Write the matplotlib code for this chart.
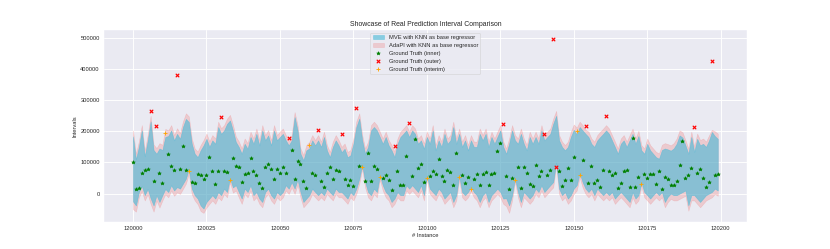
import numpy as np
import matplotlib
matplotlib.use("Agg")
import matplotlib.pyplot as plt
import seaborn as sns

# instance ids 120000 .. 120199
instances = np.arange(120000, 120200)

# ground truth (in thousands)
y_true = [103, 16, 19, 65, 77, 78, 266, 42, 217, 67,
          34, 195, 126, 89, 77, 380, 78, 154, 77, 73,
          36, 35, 63, 60, 48, 60, 117, 72, 32, 74,
          245, 74, 70, 45, 115, 89, 85, 36, 64, 67,
          113, 73, 59, 34, 18, 86, 94, 78, 46, 80,
          67, 87, 65, 180, 139, 46, 106, 94, 42, 19,
          157, 66, 59, 203, 40, 21, 65, 87, 47, 76,
          73, 192, 47, 27, 44, 24, 274, 89, 87, 42,
          130, 42, 89, 78, 52, 51, 59, 43, 10, 153,
          73, 28, 28, 120, 227, 57, 175, 82, 94, 37,
          50, 57, 74, 62, 112, 57, 40, 75, 70, 27,
          130, 52, 60, 34, 54, 16, 47, 62, 27, 62,
          70, 29, 63, 65, 137, 161, 224, 56, 15, 49,
          45, 84, 19, 84, 65, 30, 26, 93, 58, 72,
          191, 61, 77, 498, 84, 72, 26, 45, 82, 43,
          117, 200, 60, 107, 216, 33, 89, 34, 43, 21,
          75, 248, 74, 59, 66, 18, 33, 74, 76, 21,
          178, 21, 52, 31, 62, 51, 64, 64, 31, 72,
          14, 54, 48, 28, 27, 41, 92, 169, 51, 60,
          82, 213, 65, 80, 51, 20, 37, 426, 61, 63]

# MVE interval (thousands)
mve_upper = [184, 110, 150, 203, 120, 170, 232, 140, 128, 145,
             140, 182, 185, 203, 171, 192, 176, 214, 240, 230,
             160, 128, 117, 139, 155, 176, 150, 171, 160, 214,
             192, 203, 224, 235, 203, 166, 150, 128, 160, 144,
             182, 160, 192, 155, 203, 171, 187, 155, 203, 171,
             182, 192, 171, 155, 171, 246, 203, 128, 107, 139,
             145, 171, 155, 171, 150, 182, 139, 117, 150, 171,
             155, 133, 144, 117, 123, 160, 214, 241, 171, 128,
             150, 203, 214, 203, 182, 160, 182, 155, 139, 117,
             160, 182, 192, 203, 182, 203, 192, 160, 171, 144,
             182, 160, 203, 139, 171, 150, 192, 160, 171, 214,
             160, 192, 150, 171, 139, 171, 150, 150, 192, 171,
             192, 150, 182, 160, 182, 203, 150, 128, 160, 203,
             171, 160, 192, 160, 139, 182, 160, 182, 160, 203,
             171, 182, 192, 224, 250, 171, 150, 139, 150, 182,
             205, 190, 214, 203, 192, 182, 160, 150, 171, 182,
             192, 203, 192, 171, 150, 128, 160, 171, 150, 171,
             192, 160, 185, 139, 128, 160, 139, 128, 117, 112,
             140, 145, 142, 138, 145, 160, 187, 180, 155, 128,
             182, 134, 176, 155, 160, 150, 170, 198, 185, 176]
mve_lower = [-25, -38, 5, 25, -5, 15, -15, -38, -5, -27,
             -5, 15, 5, 27, 10, 21, 16, 32, 48, 80,
             16, -5, -16, -38, -48, -27, -16, -5, -16, 5,
             -5, 16, 5, 50, 20, 27, 5, -16, 16, 5,
             27, -5, 5, -16, -27, 5, 16, -5, -16, 5,
             -5, 5, 27, 16, 37, 16, 45, 5, -27, -16,
             -5, 16, 5, -5, 5, -5, 16, 5, -5, 16,
             5, 5, -5, -16, 5, -5, 16, 48, 93, 37,
             5, -5, 16, 5, 58, 27, 5, -5, -27, -16,
             5, -5, -5, 27, 16, 27, 16, 5, 27, -5,
             58, 16, 5, -5, 16, 5, -16, -5, 5, -27,
             -5, 58, 5, -5, 5, 22, 5, -5, -27, -5,
             5, -27, -5, 5, 16, 5, -16, -15, -38, -5,
             50, 5, -27, 5, -5, -16, -5, 16, 5, 27,
             5, 16, 27, 37, 100, 16, -5, 5, -16, -5,
             16, 27, 66, 37, 16, 5, 16, -5, 16, 5,
             -5, 5, -5, 5, -16, -5, 5, -5, -16, -27,
             5, -16, -5, 36, 5, -5, -16, -5, 5, -5,
             5, -27, -10, 0, -5, -5, 0, 5, 10, -38,
             -5, -5, -16, -27, -16, -5, 0, 5, 16, 10]

# AdaPI interval (thousands)
adapi_upper = [203, 128, 168, 220, 138, 188, 250, 158, 146, 162,
               157, 208, 203, 220, 188, 210, 194, 232, 258, 248,
               177, 145, 135, 156, 172, 193, 168, 188, 177, 231,
               210, 220, 241, 253, 221, 183, 168, 145, 177, 162,
               199, 177, 209, 172, 220, 188, 204, 172, 220, 188,
               199, 209, 188, 170, 188, 262, 220, 145, 124, 156,
               166, 188, 172, 188, 167, 199, 156, 134, 167, 188,
               172, 150, 161, 134, 140, 177, 232, 258, 188, 145,
               167, 220, 231, 220, 199, 177, 199, 172, 156, 135,
               177, 199, 209, 220, 199, 220, 209, 177, 188, 161,
               199, 177, 220, 156, 188, 167, 209, 177, 188, 231,
               177, 209, 167, 188, 156, 188, 167, 167, 209, 188,
               209, 167, 199, 177, 199, 220, 167, 145, 177, 220,
               188, 177, 209, 177, 156, 199, 177, 199, 177, 220,
               185, 199, 209, 241, 266, 188, 167, 156, 167, 199,
               222, 212, 231, 220, 205, 199, 177, 167, 188, 199,
               209, 220, 209, 188, 167, 145, 177, 188, 167, 188,
               209, 177, 202, 156, 145, 177, 156, 145, 134, 129,
               157, 162, 159, 155, 162, 177, 203, 197, 172, 145,
               199, 151, 193, 172, 177, 167, 187, 205, 200, 193]
adapi_lower = [-50, -58, -12, 8, -22, -2, -33, -58, -22, -45,
               -22, -2, -12, 10, -7, 4, -1, 15, 32, 64,
               -2, -22, -34, -56, -62, -45, -33, -22, -33, -12,
               -22, -1, -12, 36, 3, 10, -12, -33, -1, -12,
               10, -22, -12, -33, -44, -12, -1, -22, -33, -12,
               -22, -12, 10, -1, 20, -1, 28, -12, -44, -33,
               -22, -1, -12, -22, -12, -22, -1, -12, -22, -1,
               -12, -12, -22, -33, -12, -22, -1, 32, 80, 20,
               -12, -22, -1, -12, 45, 10, -12, -22, -44, -33,
               -12, -22, -22, 10, -1, 10, -1, -12, 10, -22,
               45, -1, -12, -22, -1, -12, -33, -22, -12, -44,
               -22, 45, -12, -22, -12, 8, -12, -22, -44, -22,
               -12, -44, -22, -12, -1, -12, -33, -40, -62, -22,
               38, -12, -44, -12, -22, -33, -22, -1, -12, 10,
               -12, -1, 10, 20, 90, -1, -22, -12, -33, -22,
               -1, 10, 52, 20, -1, -12, -1, -22, -1, -12,
               -22, -12, -22, -12, -33, -22, -12, -22, -33, -44,
               -12, -33, -22, 24, -12, -22, -33, -22, -12, -22,
               -12, -44, -27, -17, -22, -22, -17, -12, -7, -55,
               -22, -22, -33, -44, -33, -22, -17, -12, -1, -7]

y = np.array(y_true) * 1000
mu = np.array(mve_upper) * 1000
ml = np.array(mve_lower) * 1000
au = np.array(adapi_upper) * 1000
al = np.array(adapi_lower) * 1000

inner = (y >= ml) & (y <= mu)
interim = ~inner & (y >= al) & (y <= au)
outer = ~inner & ~interim

sns.set_style("darkgrid")
plt.rcParams['font.family'] = ['Liberation Sans', 'DejaVu Sans']
plt.rcParams['grid.linewidth'] = 1.6

fig, ax = plt.subplots(figsize=(20, 6))

p_ada = ax.fill_between(instances, al, au, color="lightcoral", alpha=0.3,
                        label="AdaPI with KNN as base regressor")
p_mve = ax.fill_between(instances, ml, mu, color="#47b9d7", alpha=0.6,
                        label="MVE with KNN as base regressor")
s_in = ax.scatter(instances[inner], y[inner], marker="*", color="green",
                  s=40, label="Ground Truth (inner)")
s_out = ax.scatter(instances[outer], y[outer], marker="x", color="red",
                   s=36, linewidths=2, label="Ground Truth (outer)")
s_mid = ax.scatter(instances[interim], y[interim], marker="+", color="orange",
                   s=40, linewidths=1.5, label="Ground Truth (interim)")

ax.set_xticks(np.arange(120000, 120201, 25))
ax.ticklabel_format(useOffset=False, style="plain")
ax.set_title("Showcase of Real Prediction Interval Comparison")
ax.set_xlabel("# Instance")
ax.set_ylabel("Intervals")
ax.legend(handles=[p_mve, p_ada, s_in, s_out, s_mid], loc="upper center")

plt.savefig("out.png", dpi=41.5)
